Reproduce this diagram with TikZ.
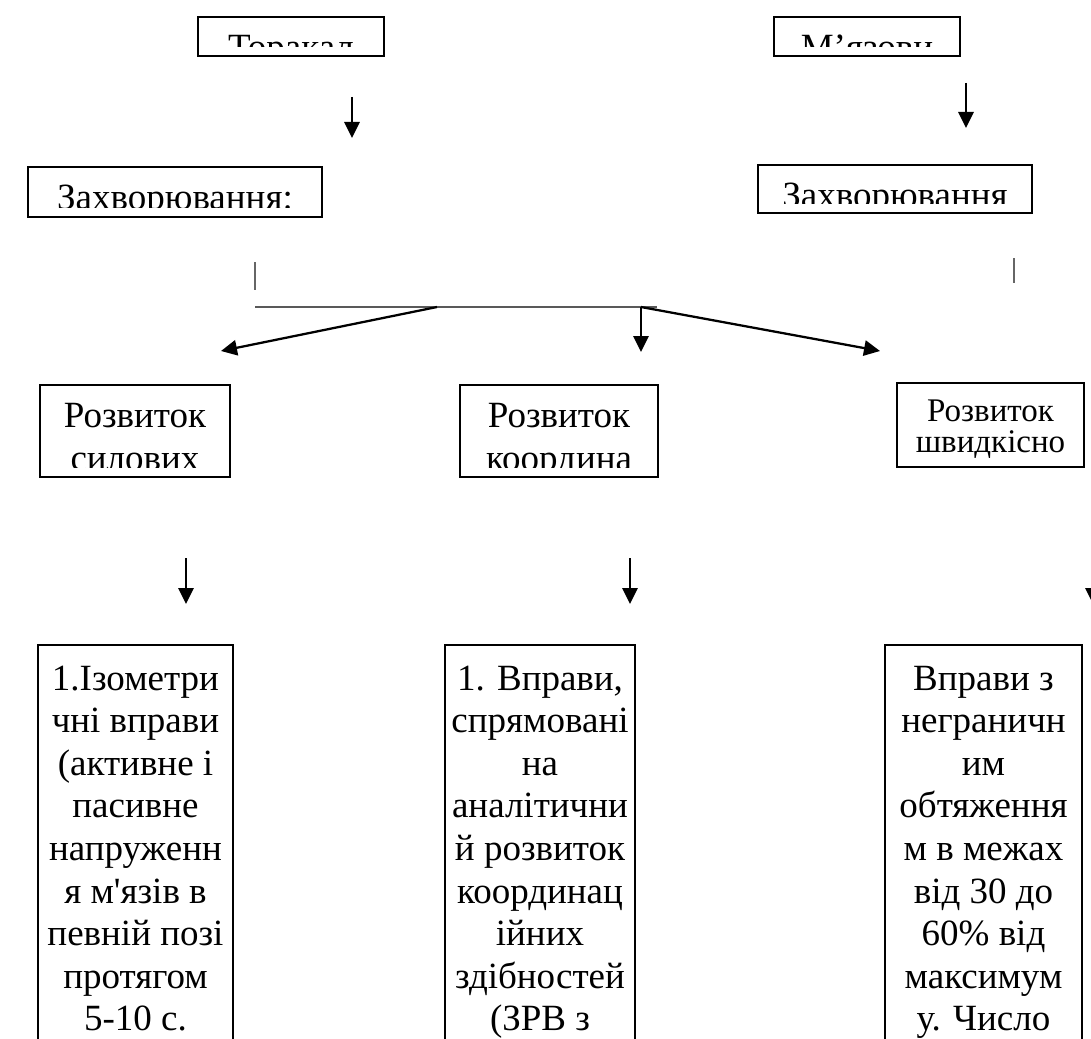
\documentclass[tikz,border=0pt]{standalone}
\usepackage{fontspec}
\setmainfont{Liberation Serif}[Ligatures=TeXOff]
\usetikzlibrary{arrows.meta}

% body text (14pt at page zoom) and the smaller heading size
\newcommand\bodyfont{\fontsize{27.75pt}{31.9pt}\selectfont}
\newcommand\smallbodyfont{\fontsize{24.75pt}{23.25pt}\selectfont}
% centred lines whose reference point is the baseline of the first line
\newcommand\linestack[1]{\vtop{\halign{\hfil##\hfil\cr#1\crcr}}}

\tikzset{
  frame/.style={draw=black, line width=1.6pt, inner sep=0pt, outer sep=0pt, fill=white},
  sz/.style 2 args={minimum width={#1*0.75pt}, minimum height={#2*0.75pt}},
  % text box whose overflowing lines are cut off by the inner margin
  boxtext/.style n args={3}{path picture={
    \clip ([xshift=1pt,yshift=7pt]path picture bounding box.south west)
      rectangle ([xshift=-1pt,yshift=-7pt]path picture bounding box.north east);
    \node[anchor=base, inner sep=0pt, font=#1]
      at ([yshift=-#2]path picture bounding box.north) {\linestack{#3}};
  }},
  arr/.style={line width=1.7pt, -{Triangle[length=12pt, width=11.5pt]}},
  tick/.style={line width=0.8pt, draw=black!60},
  bar/.style={line width=1.2pt, draw=black!65},
}

\begin{document}
\begin{tikzpicture}[x=0.75pt, y=-0.75pt]
\useasboundingbox (0,0) rectangle (1091,1038);
\fill[white] (0,0) rectangle (1091,1038);
\clip (0,0) rectangle (1091,1038);

% top row
\node[frame, sz={186}{39}, boxtext={\bodyfont}{31.9pt}{Торакал}] (tl) at (291,36.5) {};
\node[frame, sz={186}{39}, boxtext={\bodyfont}{31.9pt}{М’язови}] (tr) at (867,36.5) {};

% disease boxes
\node[frame, sz={294}{50}, boxtext={\bodyfont}{31.9pt}{Захворювання:}] (zl) at (175,192) {};
\node[frame, sz={274}{48}, boxtext={\bodyfont}{31.9pt}{Захворювання}] (zr) at (895,189) {};

% development boxes
\node[frame, sz={190}{92}, boxtext={\bodyfont}{31.9pt}{Розвиток\cr силових}] (rl) at (135,431) {};
\node[frame, sz={198}{92}, boxtext={\bodyfont}{31.9pt}{Розвиток\cr координа}] (rm) at (559,431) {};
\node[frame, sz={187}{84}, boxtext={\smallbodyfont}{29pt}{Розвиток\cr швидкісно}] (rr) at (990.5,425) {};

% exercise boxes
\node[frame, sz={195}{455}, boxtext={\bodyfont}{34pt}{1.Ізометри\cr чні вправи\cr (активне і\cr пасивне\cr напруженн\cr я м'язів в\cr певній позі\cr протягом\cr 5-10 с.}] (bl) at (135.5,872.5) {};
\node[frame, sz={190}{455}, boxtext={\bodyfont}{34pt}{1. Вправи,\cr спрямовані\cr на\cr аналітични\cr й розвиток\cr координац\cr ійних\cr здібностей\cr (ЗРВ з}] (bm) at (540,872.5) {};
\node[frame, sz={197}{455}, boxtext={\bodyfont}{34pt}{Вправи з\cr неграничн\cr им\cr обтяження\cr м в межах\cr від 30 до\cr 60\% від\cr максимум\cr у. Число}] (br) at (983.5,872.5) {};

% connector end points
\coordinate (d1a) at (352,97);   \coordinate (d1b) at (352,138);
\coordinate (d2a) at (966,83);   \coordinate (d2b) at (966,128);
\coordinate (t1a) at (255,262);  \coordinate (t1b) at (255,290);
\coordinate (t2a) at (1014,258); \coordinate (t2b) at (1014,283);
\coordinate (hA) at (255,307);   \coordinate (hB) at (657,307);
\coordinate (hL) at (437,307);   \coordinate (hM) at (641,307);
\coordinate (eL) at (221,351);   \coordinate (eM) at (641,352);
\coordinate (eR) at (880,351);
\coordinate (v1a) at (186,558);  \coordinate (v1b) at (186,604);
\coordinate (v2a) at (630,558);  \coordinate (v2b) at (630,604);
\coordinate (v3a) at (1093,558); \coordinate (v3b) at (1093,604);

\draw[arr] (d1a) -- (d1b);
\draw[arr] (d2a) -- (d2b);
\draw[tick] (t1a) -- (t1b);
\draw[tick] (t2a) -- (t2b);
\draw[bar] (hA) -- (hB);
\draw[arr] (hL) -- (eL);
\draw[arr] (hM) -- (eM);
\draw[arr] (hM) -- (eR);
\draw[arr] (v1a) -- (v1b);
\draw[arr] (v2a) -- (v2b);
\draw[arr] (v3a) -- (v3b);
\end{tikzpicture}
\end{document}
